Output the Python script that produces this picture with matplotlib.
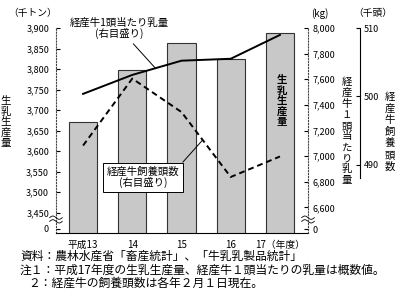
import numpy as np
import matplotlib
matplotlib.use('Agg')
import matplotlib.pyplot as plt

plt.rcParams['font.family'] = ['Noto Sans CJK JP', 'DejaVu Sans']

# data
years = ['平成13', '14', '15', '16', '17（年度）']
milk_prod = [3672, 3798, 3864, 3824, 3887]        # 千トン (left)
milk_per_cow = [7486, 7634, 7745, 7760, 7946]     # kg (right)
cows = [492.8, 502.6, 497.7, 488.2, 491.2]        # 千頭 (far right)

left_ticks = [3450, 3500, 3550, 3600, 3650, 3700, 3750, 3800, 3850, 3900]
kg_ticks = [6600, 6800, 7000, 7200, 7400, 7600, 7800, 8000]
head_ticks = [490, 500, 510]

fig = plt.figure(figsize=(4.0, 2.98), dpi=100)
ax = fig.add_axes([0.14, 0.218, 0.63, 0.688])
x = np.arange(len(years))

ax.bar(x, milk_prod, width=0.57, color='#c8c8c8', edgecolor='#333333', linewidth=0.8, zorder=1)
ax.set_xlim(-0.55, 4.57)
ax.set_ylim(3400, 3900)
ax.set_yticks([3410] + left_ticks)
ax.set_yticklabels(['0'] + [f'{v:,}' for v in left_ticks])
ax.set_xticks(x)
ax.set_xticklabels(years)
ax.tick_params(axis='x', length=0, labelsize=7, pad=5)
ax.tick_params(axis='y', direction='in', length=3, labelsize=6.5, pad=5)
for s in ['top', 'right']:
    ax.spines[s].set_visible(False)
ax.spines['left'].set_linestyle(':')
ax.spines['left'].set_color('#444444')

# kg axis
ax2 = ax.twinx()
ax2.plot(x, milk_per_cow, color='black', linewidth=1.4, zorder=3)
ax2.set_ylim(6400, 8000)
ax2.set_yticks([6430] + kg_ticks)
ax2.set_yticklabels(['0'] + [f'{v:,}' for v in kg_ticks])
ax2.tick_params(axis='y', direction='in', length=3, labelsize=6.5, pad=3)
for s in ['top', 'left', 'bottom']:
    ax2.spines[s].set_visible(False)
ax2.spines['right'].set_linestyle(':')
ax2.spines['right'].set_color('#444444')

# head axis
ax3 = ax.twinx()
ax3.plot(x, cows, color='black', linewidth=1.4, dashes=(3, 2), zorder=3)
ax3.set_ylim(480, 510)
ax3.set_yticks(head_ticks)
ax3.tick_params(axis='y', direction='in', length=3, labelsize=6.5, pad=3)
for s in ['top', 'left', 'bottom']:
    ax3.spines[s].set_visible(False)
ax3.spines['right'].set_position(('axes', 1.206))
ax3.spines['right'].set_bounds(488, 510)

# unit labels
fig.text(0.082, 0.955, '（千トン）', fontsize=7, ha='center', va='center')
fig.text(0.80, 0.955, '(kg)', fontsize=7, ha='center', va='center')
fig.text(0.932, 0.955, '（千頭）', fontsize=7, ha='center', va='center')

# vertical axis titles, one character at a time
def vtext(px, py_top, step, s, **kw):
    for i, ch in enumerate(s):
        fig.text(px / 400, 1 - (py_top + i * step) / 298, ch, ha='center', va='center',
                 fontsize=7.5, **kw)

vtext(6, 101, 10.5, '生乳生産量')
vtext(347, 82, 10.9, '経産牛１頭当たり乳量')
vtext(390, 97, 11.6, '経産牛飼養頭数')
vtext(282, 80, 10.5, '生乳生産量', fontweight='bold')

# annotations
xa = 1.47
ax2.annotate('経産牛1頭当たり乳量\n(右目盛り)', xy=(xa, np.interp(xa, x, milk_per_cow)),
             xytext=(119 / 400, 1 - 28 / 298), textcoords='figure fraction',
             ha='center', va='center', fontsize=7.5, linespacing=1.05,
             arrowprops=dict(arrowstyle='-', color='black', lw=0.7, relpos=(0.6, 0.0),
                             shrinkA=2, shrinkB=0))
xb = 2.43
ax3.annotate('経産牛飼養頭数\n(右目盛り)', xy=(xb, np.interp(xb, x, cows)),
             xytext=(143 / 400, 1 - 177 / 298), textcoords='figure fraction',
             ha='center', va='center', fontsize=7.5, linespacing=1.05,
             bbox=dict(boxstyle='square,pad=0.35', fc='white', ec='black', lw=0.7),
             arrowprops=dict(arrowstyle='-', color='black', lw=0.7, relpos=(1.0, 1.0),
                             shrinkA=0, shrinkB=0), zorder=5)

# axis break marks
t = np.linspace(0, 1, 30)
for ox in (0.0, 1.0):
    for dy in (0.075, 0.057):
        ax.plot(ox - 0.025 + 0.05 * t, dy + 0.008 * np.sin(2 * np.pi * t),
                transform=ax.transAxes, color='black', lw=0.6, clip_on=False, zorder=6)

# footnotes
fig.text(0.05, 1 - 256 / 298, '資料：農林水産省「畜産統計」、「牛乳乳製品統計」', fontsize=8.5, va='center')
fig.text(0.05, 1 - 270 / 298, '注１：平成17年度の生乳生産量、経産牛１頭当たりの乳量は概数値。', fontsize=8.5, va='center')
fig.text(0.07, 1 - 283 / 298, '２：経産牛の飼養頭数は各年２月１日現在。', fontsize=8.5, va='center')

fig.savefig('out.png', dpi=100)
